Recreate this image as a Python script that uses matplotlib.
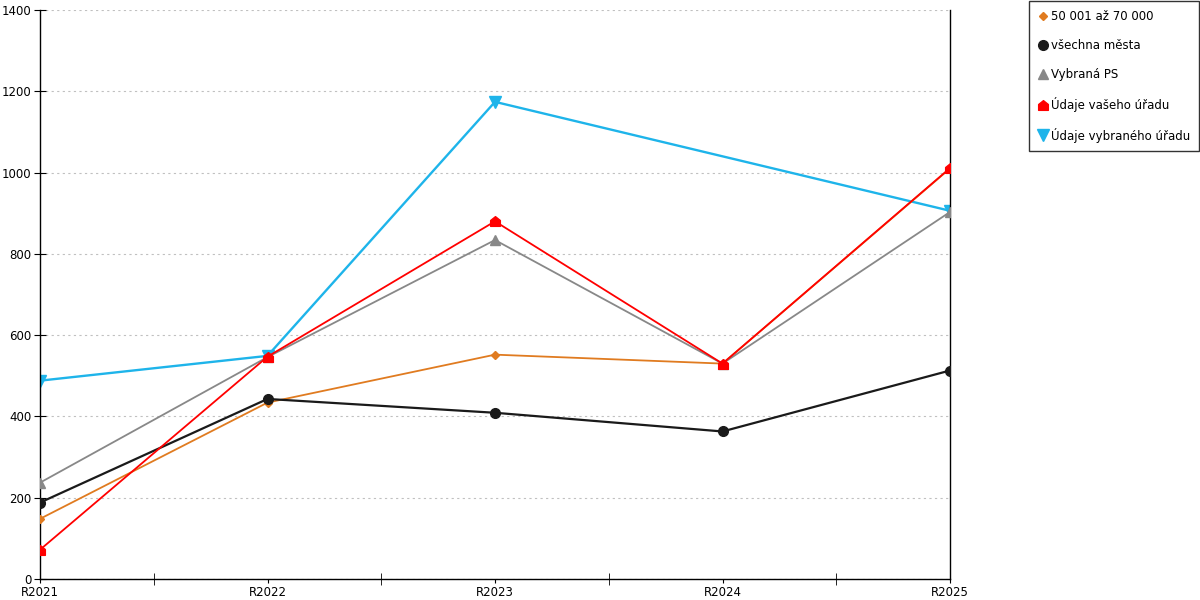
import matplotlib.pyplot as plt
import numpy as np
from matplotlib.path import Path

# data
years = ['R2021', 'R2022', 'R2023', 'R2024', 'R2025']
orange_vals = [148, 434, 552, 530, 1010]
black_vals = [188, 443, 409, 363, 513]
gray_vals = [237, 546, 834, 530, 903]
red_vals = [72, 547, 880, 530, 1011]
blue_vals = [488, 549, 1174, np.nan, 906]

labels = ['50 001 až 70 000', 'všechna města', 'Vybraná PS',
          'Údaje vašeho úřadu', 'Údaje vybraného úřadu']

# house shaped marker (square with roof)
house = Path([(-1, -1), (1, -1), (1, 0.2), (0, 1), (-1, 0.2), (-1, -1)],
             [Path.MOVETO, Path.LINETO, Path.LINETO, Path.LINETO, Path.LINETO, Path.CLOSEPOLY])

fig = plt.figure(figsize=(12, 6), dpi=100)
ax = fig.add_axes([40 / 1200, 21 / 600, 910 / 1200, 569 / 600])

x = np.arange(len(years))

def plot_series(vals, **kw):
    vals = np.array(vals, dtype=float)
    ok = ~np.isnan(vals)
    return ax.plot(x[ok], vals[ok], **kw)[0]

h1 = plot_series(orange_vals, color='#E07B20', lw=1.3, marker='D', ms=4.5, zorder=3)
h2 = plot_series(black_vals, color='#1a1a1a', lw=1.6, marker='o', ms=7, zorder=4)
h3 = plot_series(gray_vals, color='#888888', lw=1.3, marker='^', ms=7, zorder=3)
h4 = plot_series(red_vals, color='#FF0000', lw=1.3, marker=house, ms=7, zorder=5)
h5 = plot_series(blue_vals, color='#1EB4EA', lw=1.7, marker='v', ms=8, zorder=2)

ax.set_xlim(0, 4)
ax.set_ylim(0, 1400)
ax.set_yticks(range(0, 1401, 200))
ax.set_xticks(x)
ax.set_xticklabels(years)
ax.set_xticks(x[:-1] + 0.5, minor=True)
ax.tick_params(axis='x', which='major', length=3, direction='out', labelsize=8.5, pad=2)
ax.tick_params(axis='x', which='minor', length=8, direction='inout')
ax.tick_params(axis='y', length=8, direction='inout', labelsize=8.5, pad=2)
ax.grid(axis='y', color='#c0c0c0', linestyle=(0, (2, 3)), lw=0.8)
ax.spines['top'].set_visible(False)
for s in ['left', 'right', 'bottom']:
    ax.spines[s].set_color('black')
    ax.spines[s].set_linewidth(1)

leg = fig.legend([h1, h2, h3, h4, h5], labels, loc='upper right',
                 bbox_to_anchor=(1199 / 1200, 1 - 1 / 600), frameon=True,
                 fancybox=False, edgecolor='black', fontsize=8.5,
                 handlelength=0.8, handletextpad=0.3, labelspacing=1.35,
                 borderpad=0.75, borderaxespad=0)
for line in leg.get_lines():
    line.set_linestyle('none')
leg.get_frame().set_linewidth(1)

fig.savefig('out.png', dpi=100)
